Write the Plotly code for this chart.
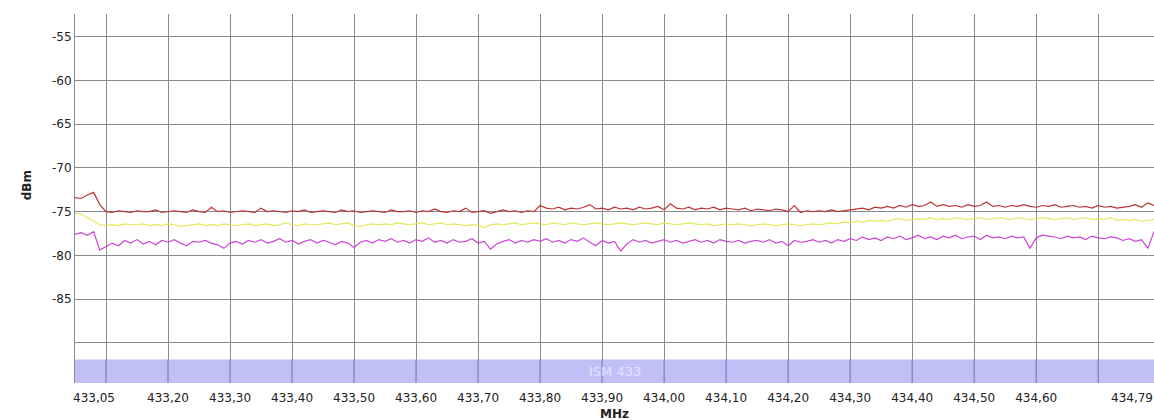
import numpy as np
import plotly.graph_objects as go

# Frequency bins (MHz)
freq_start = 433.05
freq_step = 0.01
n_points = 175
freq = np.round(freq_start + freq_step * np.arange(n_points), 2)

red_dbm = [
    -73.4, -73.5, -73.1, -72.8, -74.2, -75.0, -75.1, -74.9, -75.0, -75.1,
    -74.9, -75.0, -75.0, -74.8, -75.1, -75.0, -74.9, -75.0, -75.1, -74.8,
    -75.0, -75.1, -74.5, -75.0, -74.9, -75.1, -75.0, -74.9, -75.0, -75.1,
    -74.6, -75.0, -74.9, -75.0, -75.1, -74.9, -75.0, -74.8, -75.1, -75.0,
    -74.9, -75.0, -75.1, -74.8, -75.0, -74.9, -75.1, -75.0, -74.9, -75.0,
    -75.1, -74.8, -75.0, -75.0, -74.9, -75.1, -74.9, -75.0, -74.7, -75.0,
    -75.1, -74.9, -75.0, -74.6, -75.1, -75.0, -74.9, -75.2, -75.0, -74.8,
    -75.0, -74.9, -75.1, -74.9, -75.0, -74.3, -74.6, -74.7, -74.5, -74.8,
    -74.6, -74.7, -74.5, -74.2, -74.7, -74.6, -74.8, -74.5, -74.7, -74.6,
    -74.8, -74.5, -74.7, -74.6, -74.4, -74.8, -74.1, -74.6, -74.7, -74.5,
    -74.8, -74.6, -74.7, -74.5, -74.8, -74.6, -74.7, -74.8, -74.6, -74.9,
    -74.7, -74.8, -74.9, -74.7, -74.8, -75.0, -74.3, -75.1, -74.9, -75.0,
    -74.9, -75.0, -74.8, -75.0, -74.9, -74.8, -74.7, -74.6, -74.8, -74.5,
    -74.6, -74.4, -74.6, -74.3, -74.5, -74.2, -74.4, -74.3, -73.9, -74.4,
    -74.2, -74.4, -74.3, -74.5, -74.2, -74.4, -74.3, -73.9, -74.4, -74.3,
    -74.5, -74.3, -74.4, -74.2, -74.4, -74.5, -74.3, -74.4, -74.2, -74.5,
    -74.4, -74.3, -74.5, -74.4, -74.6, -74.3, -74.5, -74.4, -74.6, -74.5,
    -74.4, -74.2, -74.5, -74.0, -74.3,
]

yellow_dbm = [
    -75.2, -75.3, -75.7, -76.1, -76.5, -76.6, -76.5, -76.6, -76.4, -76.5,
    -76.5, -76.4, -76.6, -76.5, -76.6, -76.4, -76.5, -76.7, -76.6, -76.5,
    -76.4, -76.6, -76.5, -76.6, -76.4, -76.5, -76.6, -76.5, -76.4, -76.6,
    -76.5, -76.4, -76.6, -76.5, -76.3, -76.5, -76.6, -76.4, -76.5, -76.5,
    -76.4, -76.3, -76.5, -76.4, -76.3, -76.6, -76.7, -76.5, -76.4, -76.5,
    -76.4, -76.5, -76.3, -76.4, -76.5, -76.4, -76.3, -76.5, -76.4, -76.3,
    -76.5, -76.4, -76.5, -76.6, -76.5, -76.6, -76.8, -76.5, -76.4, -76.5,
    -76.4, -76.3, -76.5, -76.4, -76.3, -76.4, -76.5, -76.3, -76.4, -76.5,
    -76.3, -76.4, -76.5, -76.4, -76.3, -76.4, -76.5, -76.4, -76.3, -76.4,
    -76.5, -76.4, -76.3, -76.4, -76.5, -76.3, -76.4, -76.5, -76.4, -76.3,
    -76.4, -76.5, -76.4, -76.6, -76.5, -76.4, -76.5, -76.4, -76.5, -76.6,
    -76.5, -76.4, -76.5, -76.6, -76.5, -76.4, -76.5, -76.6, -76.5, -76.4,
    -76.5, -76.4, -76.3, -76.4, -76.2, -76.3, -76.1, -76.2, -76.0, -76.1,
    -76.0, -76.1, -75.9, -75.8, -76.0, -75.9, -75.8, -75.9, -75.7, -75.9,
    -75.8, -75.9, -75.7, -75.8, -75.9, -75.8, -75.7, -75.9, -75.8, -75.7,
    -75.8, -75.9, -75.7, -75.8, -75.9, -75.8, -75.7, -75.8, -75.9, -75.8,
    -75.7, -75.9, -75.8, -75.7, -75.9, -75.8, -75.9, -75.7, -76.0, -75.9,
    -76.0, -75.9, -76.1, -76.0, -75.9,
]

magenta_dbm = [
    -77.6, -77.4, -77.7, -77.3, -79.4, -79.0, -78.6, -78.9, -78.3, -78.6,
    -78.2, -78.7, -78.4, -78.8, -78.3, -78.5, -78.2, -78.6, -78.9, -78.4,
    -78.5, -78.3, -78.6, -78.8, -79.2, -78.6, -78.4, -78.7, -78.3, -78.5,
    -78.2, -78.6, -78.4, -78.1, -78.5, -78.3, -78.7, -78.4, -78.2, -78.6,
    -78.3, -78.5, -78.8, -78.4, -78.6, -79.1, -78.5, -78.3, -78.6, -78.2,
    -78.4, -78.1, -78.5, -78.3, -78.6, -78.2, -78.4, -78.0, -78.5, -78.3,
    -78.6, -78.2, -78.5, -78.4, -78.1, -78.6, -78.4, -79.3, -78.7, -78.4,
    -78.2, -78.6, -78.3, -78.5, -78.2, -78.4, -78.1, -78.5, -78.3, -78.6,
    -78.2, -78.4, -78.0, -78.5, -78.9, -78.3, -78.6, -78.4, -79.5, -78.7,
    -78.2, -78.5, -78.3, -78.6, -78.4, -78.2, -78.5, -78.3, -78.6, -78.4,
    -78.2, -78.5, -78.3, -78.6, -78.2, -78.4, -78.5, -78.3, -78.6, -78.4,
    -78.3, -78.5, -78.2, -78.6, -78.4, -78.9, -78.3, -78.5, -78.4, -78.2,
    -78.5, -78.3, -78.6, -78.2, -78.4, -78.1, -78.3, -77.9, -78.2, -78.0,
    -78.3, -77.9, -78.1, -77.8, -78.2, -78.0, -77.7, -78.1, -77.9, -78.2,
    -77.8, -78.0, -77.7, -78.1, -77.9, -77.8, -78.2, -77.7, -78.0, -77.9,
    -78.1, -77.8, -78.0, -77.9, -79.2, -78.0, -77.7, -77.8, -77.9, -78.1,
    -77.8, -78.0, -77.9, -78.2, -77.8, -78.0, -78.1, -77.9, -78.0, -78.3,
    -78.1, -78.4, -78.2, -79.2, -77.3,
]

# gridline positions; the two outer ones carry no label (range ends are labelled instead)
x_tickvals = [433.10, 433.20, 433.30, 433.40, 433.50, 433.60, 433.70, 433.80, 433.90,
              434.00, 434.10, 434.20, 434.30, 434.40, 434.50, 434.60, 434.70]
x_ticktext = ["", "433,20", "433,30", "433,40", "433,50", "433,60", "433,70",
              "433,80", "433,90", "434,00", "434,10", "434,20", "434,30", "434,40",
              "434,50", "434,60", ""]
range_start_label = "433,05"
range_end_label = "434,79"
y_tickvals = [-90, -85, -80, -75, -70, -65, -60, -55]
y_ticktext = ["", "-85", "-80", "-75", "-70", "-65", "-60", "-55"]

x_range = [433.05, 434.79]
y_range = [-94.6, -52.4]
band_label = "ISM 433"
band_top = -91.9

fig = go.Figure()
for vals, color in [(magenta_dbm, "#cc44d6"), (yellow_dbm, "#e6e65a"), (red_dbm, "#bb3333")]:
    fig.add_trace(go.Scatter(x=freq, y=vals, mode="lines",
                             line=dict(color=color, width=1.2), hoverinfo="skip",
                             showlegend=False))

# ISM band
fig.add_shape(type="rect", xref="x", yref="y", x0=x_range[0], x1=x_range[1],
              y0=y_range[0], y1=band_top,
              fillcolor="#c0c0f7", line=dict(width=0), layer="above")
# grid continues through the band
for tv in x_tickvals:
    fig.add_shape(type="line", xref="x", yref="y", x0=tv, x1=tv,
                  y0=y_range[0], y1=band_top,
                  line=dict(color="#6e6eb4", width=1), layer="above")
fig.add_annotation(xref="paper", yref="y", x=0.5, y=(y_range[0] + band_top) / 2,
                   text=band_label, showarrow=False,
                   font=dict(color="#e4e4ff", size=13, family="DejaVu Sans"))

label_y = (383 - 397.5) / 369
fig.add_annotation(xref="x", yref="paper", x=x_range[0], y=label_y, xanchor="left",
                   xshift=-4, yanchor="middle", text=range_start_label, showarrow=False,
                   font=dict(color="#222", size=12, family="DejaVu Sans"))
fig.add_annotation(xref="x", yref="paper", x=x_range[1], y=label_y, xanchor="right",
                   xshift=1, yanchor="middle", text=range_end_label, showarrow=False,
                   font=dict(color="#222", size=12, family="DejaVu Sans"))

fig.add_annotation(xref="paper", yref="paper", x=(18 - 75) / 1079, y=0.536,
                   text="<b>dBm</b>", textangle=-90, showarrow=False,
                   font=dict(color="#222", size=12, family="DejaVu Sans"))
fig.add_annotation(xref="paper", yref="paper", x=0.5, y=(383 - 413.5) / 369,
                   text="<b>MHz</b>", showarrow=False, yanchor="middle",
                   font=dict(color="#222", size=12, family="DejaVu Sans"))

fig.update_layout(
    width=1154, height=420,
    margin=dict(l=75, r=0, t=14, b=37),
    paper_bgcolor="white", plot_bgcolor="white",
    font=dict(family="DejaVu Sans", size=12, color="#222"),
    xaxis=dict(range=x_range, tickmode="array", tickvals=x_tickvals, ticktext=x_ticktext,
               showgrid=True, gridcolor="#8a8a8a", gridwidth=1, zeroline=False,
               showline=False, ticks="", ticklabelstandoff=6,
               tickfont=dict(size=12, color="#222")),
    yaxis=dict(range=y_range, tickmode="array", tickvals=y_tickvals, ticktext=y_ticktext,
               showgrid=True, gridcolor="#8a8a8a", gridwidth=1, zeroline=False,
               showline=True, linecolor="#8a8a8a", linewidth=1, ticks="",
               tickfont=dict(size=12, color="#222")),
)

fig.write_html("out.html")
